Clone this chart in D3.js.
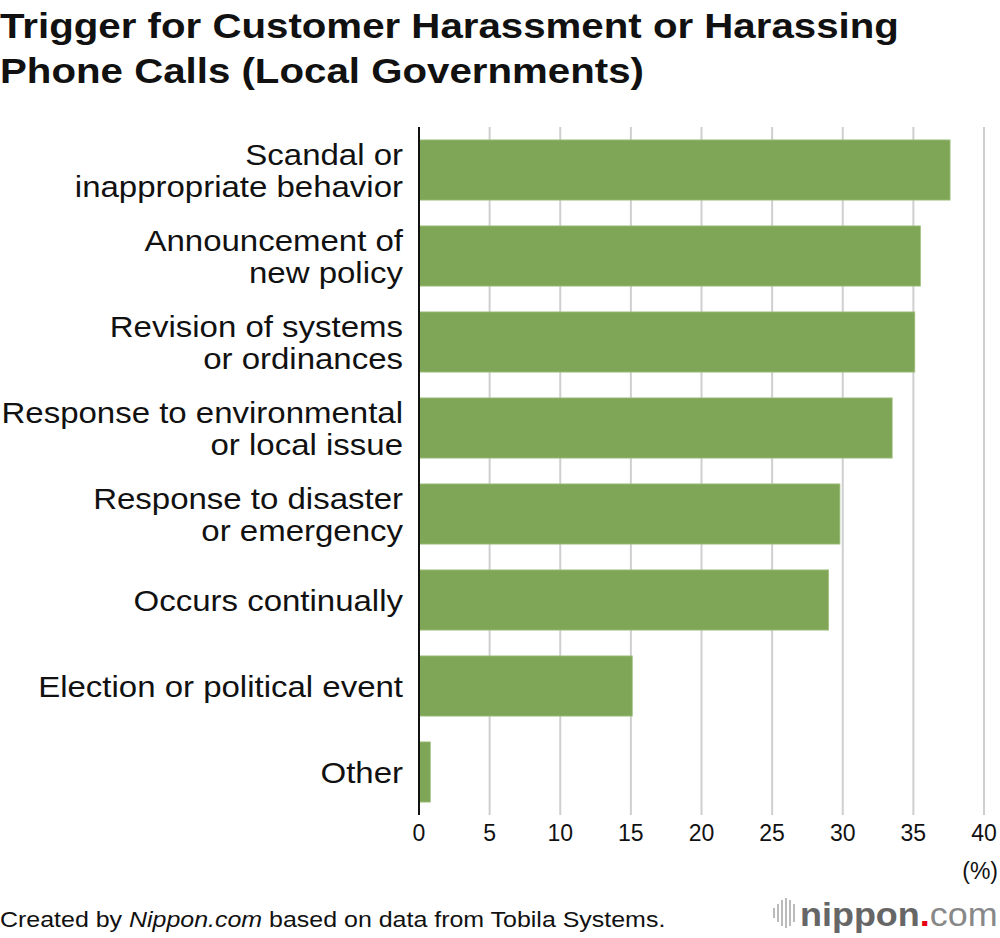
<!DOCTYPE html>
<html lang='en'>
    <head>
        <meta charset='utf-8'>
        <title>Trigger for Customer Harassment or Harassing Phone Calls</title>
        <script src="https://d3js.org/d3.v7.min.js" charset='utf-8'></script>
        <style type='text/css'>
            body { margin: 0; background: #fff; }
            svg { display: block; }
            text { font-family: 'Liberation Sans', Arial, Helvetica, sans-serif; fill: #111; }
        </style>
    </head>
    <body>
        <script type='text/javascript'>
            // data
            var categories = [
                ['Scandal or', 'inappropriate behavior'],
                ['Announcement of', 'new policy'],
                ['Revision of systems', 'or ordinances'],
                ['Response to environmental', 'or local issue'],
                ['Response to disaster', 'or emergency'],
                ['Occurs continually'],
                ['Election or political event'],
                ['Other']
            ];
            var values = [37.6, 35.5, 35.1, 33.5, 29.8, 29.0, 15.1, 0.8];
            var ticks = [0, 5, 10, 15, 20, 25, 30, 35, 40];
            var titleLines = ['Trigger for Customer Harassment or Harassing', 'Phone Calls (Local Governments)'];

            var width = 1000, height = 938;
            var margin = {top: 127, right: 16, bottom: 123, left: 419};

            var svg = d3.select('body')
                .append('svg')
                .attr('width', width)
                .attr('height', height);

            var x = d3.scaleLinear()
                .domain([0, 40])
                .range([margin.left, width - margin.right]);

            var y = d3.scaleBand()
                .domain(d3.range(categories.length))
                .range([margin.top, height - margin.bottom])
                .paddingInner(0.3)
                .paddingOuter(0.15);

            // title (the original face is wider than Arial, so stretch a bit)
            svg.append('g')
                .attr('transform', 'scale(1.118,1)')
                .selectAll('text')
                .data(titleLines)
                .join('text')
                .attr('x', 0)
                .attr('y', function(d, i) { return 38 + i * 45; })
                .attr('font-size', 36)
                .attr('font-weight', 'bold')
                .text(function(d) { return d; });

            // gridlines
            svg.append('g')
                .selectAll('line')
                .data(ticks.slice(1))
                .join('line')
                .attr('x1', function(d) { return x(d); })
                .attr('x2', function(d) { return x(d); })
                .attr('y1', margin.top)
                .attr('y2', height - margin.bottom)
                .attr('stroke', '#cfcfcf')
                .attr('stroke-width', 2);

            // bars
            svg.append('g')
                .selectAll('rect')
                .data(values)
                .join('rect')
                .attr('x', x(0))
                .attr('y', function(d, i) { return y(i); })
                .attr('width', function(d) { return x(d) - x(0); })
                .attr('height', y.bandwidth())
                .attr('fill', '#7ea656')
                .attr('stroke', '#a3c285')
                .attr('stroke-width', 0.8);

            // vertical axis line
            svg.append('line')
                .attr('x1', x(0))
                .attr('x2', x(0))
                .attr('y1', margin.top)
                .attr('y2', height - margin.bottom)
                .attr('stroke', '#111')
                .attr('stroke-width', 2);

            // category labels
            var lineH = 32;
            var labels = svg.append('g')
                .attr('transform', 'translate(403,0) scale(1.1,1)')
                .selectAll('text')
                .data(categories)
                .join('text')
                .attr('text-anchor', 'end')
                .attr('font-size', 30)
                .attr('x', 0)
                .attr('y', function(d, i) {
                    return y(i) + y.bandwidth() / 2 + 11 - (d.length - 1) * lineH / 2;
                });
            labels.selectAll('tspan')
                .data(function(d) { return d; })
                .join('tspan')
                .attr('x', 0)
                .attr('dy', function(d, i) { return i ? lineH : 0; })
                .text(function(d) { return d; });

            // x tick labels
            svg.append('g')
                .selectAll('text')
                .data(ticks)
                .join('text')
                .attr('x', function(d) { return x(d); })
                .attr('y', 841)
                .attr('text-anchor', 'middle')
                .attr('font-size', 23)
                .text(function(d) { return d; });

            svg.append('text')
                .attr('x', 998)
                .attr('y', 879)
                .attr('text-anchor', 'end')
                .attr('font-size', 23)
                .text('(%)');

            // footer
            var src = svg.append('text')
                .attr('transform', 'scale(1.135,1)')
                .attr('x', 0)
                .attr('y', 927)
                .attr('font-size', 22);
            src.append('tspan').text('Created by ');
            src.append('tspan').attr('font-style', 'italic').text('Nippon.com');
            src.append('tspan').text(' based on data from Tobila Systems.');

            // logo
            var logo = svg.append('g');
            var barsH = [10, 18, 26, 30, 26, 18];
            logo.selectAll('rect')
                .data(barsH)
                .join('rect')
                .attr('x', function(d, i) { return 773 + i * 4; })
                .attr('y', function(d) { return 913 - d / 2; })
                .attr('width', 2)
                .attr('height', function(d) { return d; })
                .attr('fill', '#bbb');
            var lt = logo.append('text')
                .attr('transform', 'translate(800,926) scale(1.09,1)')
                .attr('font-family', "'Open Sans', 'DejaVu Sans', sans-serif")
                .attr('font-size', 33);
            lt.append('tspan').attr('font-weight', 'bold').style('fill', '#666').text('nippon');
            lt.append('tspan').attr('font-weight', 'bold').style('fill', '#e60012').text('.');
            lt.append('tspan').attr('font-weight', 300).style('fill', '#888').text('com');
        </script>
    </body>
</html>
